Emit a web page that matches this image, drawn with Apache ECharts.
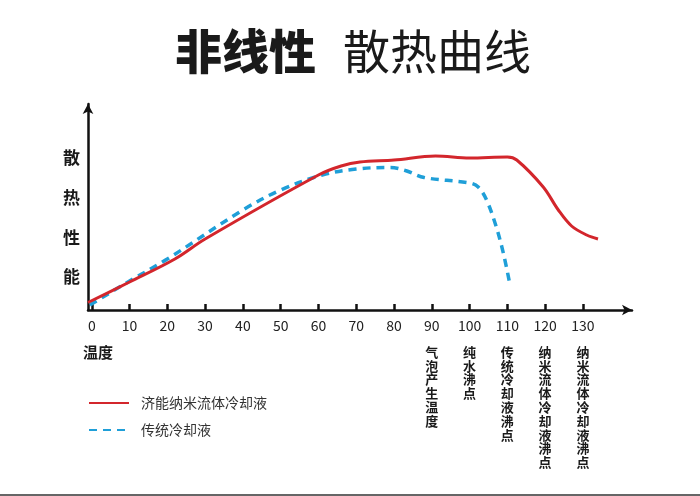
<!DOCTYPE html>
<html>
<head>
<meta charset="utf-8">
<script src="https://cdn.jsdelivr.net/npm/echarts@6/dist/echarts.min.js"></script>
<style>
  html, body { margin: 0; padding: 0; background: #fff; }
  #main { width: 700px; height: 496px; }
</style>
</head>
<body>
<div id="main"></div>
<script>
// 温度刻度
var xTicks = [0, 10, 20, 30, 40, 50, 60, 70, 80, 90, 100, 110, 120, 130];

// 济能纳米流体冷却液 [温度, 散热性能]
var nanoData = [
    [-1, 7.5], [10, 28], [22, 51], [30, 71], [60, 135], [66, 144], [71, 148],
    [80, 150], [91, 154], [100, 152], [110, 153], [112.5, 150], [119.5, 123],
    [123.5, 100], [127, 84], [131, 75], [134, 71]
];

// 传统冷却液
var oldData = [
    [-0.5, 5], [10, 29], [20, 51], [40, 100], [50, 120], [61, 135], [70, 141],
    [79, 142.5], [83, 139.5], [88, 132.5], [100, 127], [102.3, 123],
    [104.5, 110], [107, 84], [109, 56], [110.6, 27]
];

// 轴下方的说明
var noteValues = [90, 100, 110, 120, 130];
var noteTexts = ['气泡产生温度', '纯水沸点', '传统冷却液沸点', '纳米流体冷却液沸点', '纳米流体冷却液沸点'];

var seriesNames = ['济能纳米流体冷却液', '传统冷却液'];

var FONT = '"Noto Sans CJK SC", "Noto Sans", sans-serif';

var chartDom = document.getElementById('main');
var myChart = echarts.init(chartDom);
var option;

option = {
    backgroundColor: '#fff',
    animation: false,
    textStyle: { fontFamily: FONT },
    title: {
        text: '{a|非线性}{b|散热曲线}',
        left: 175,
        top: 28,
        padding: 0,
        textStyle: {
            rich: {
                a: { fontSize: 47, fontWeight: 900, color: '#1a1a1a', fontFamily: FONT },
                b: { fontSize: 47, fontWeight: 'normal', color: '#1a1a1a', fontFamily: FONT, padding: [0, 0, 0, 27] }
            }
        }
    },
    legend: {
        orient: 'vertical',
        left: 88,
        top: 396,
        padding: 0,
        itemWidth: 40,
        itemHeight: 14,
        itemGap: 13,
        itemStyle: { opacity: 0 },
        textStyle: { fontSize: 14, color: '#333', fontFamily: FONT, padding: [0, 0, 0, 7] },
        data: seriesNames
    },
    grid: { left: 88, right: 68, top: 104, bottom: 186 },
    xAxis: {
        type: 'value',
        min: -1,
        max: 143,
        splitLine: { show: false },
        axisLine: {
            lineStyle: { color: '#111', width: 2.5 },
            symbol: ['none', 'arrow'],
            symbolSize: [8, 10]
        },
        axisTick: {
            inside: true,
            length: 6,
            customValues: xTicks,
            lineStyle: { color: '#111', width: 2.5 }
        },
        axisLabel: {
            customValues: xTicks,
            margin: 9,
            fontSize: 14,
            color: '#222',
            fontFamily: FONT
        }
    },
    yAxis: {
        type: 'value',
        min: 0,
        max: 206,
        splitLine: { show: false },
        axisTick: { show: false },
        axisLabel: { show: false },
        axisLine: {
            show: true,
            onZero: false,
            lineStyle: { color: '#111', width: 2.5 },
            symbol: ['none', 'arrow'],
            symbolSize: [8, 10]
        }
    },
    series: [
        {
            name: seriesNames[0],
            type: 'line',
            data: nanoData,
            smooth: 0.35,
            symbol: 'none',
            z: 3,
            itemStyle: { color: '#d3262c' },
            lineStyle: { color: '#d3262c', width: 3 }
        },
        {
            name: seriesNames[1],
            type: 'line',
            data: oldData,
            smooth: 0.35,
            symbol: 'none',
            z: 2,
            itemStyle: { color: '#1f9fd8' },
            lineStyle: { color: '#1f9fd8', width: 3.5, type: [8, 6] }
        }
    ]
};

option && myChart.setOption(option);

// 纵轴文字、横轴名称和说明文字
var graphics = [
    {
        type: 'text',
        left: 63,
        top: 138,
        style: {
            text: '散\n热\n性\n能',
            font: 'bold 17px ' + FONT,
            lineHeight: 39.7,
            fill: '#1a1a1a'
        }
    },
    {
        type: 'text',
        left: 83,
        top: 345,
        style: { text: '温度', font: 'bold 15px ' + FONT, fill: '#1a1a1a' }
    },
    {
        type: 'rect',
        shape: { x: 0, y: 494, width: 700, height: 2 },
        style: { fill: '#666' }
    }
];

noteValues.forEach(function (v, i) {
    var px = myChart.convertToPixel({ xAxisIndex: 0 }, v);
    graphics.push({
        type: 'text',
        x: px,
        y: 345,
        style: {
            text: noteTexts[i].split('').join('\n'),
            font: 'bold 13px ' + FONT,
            lineHeight: 13.8,
            align: 'center',
            verticalAlign: 'top',
            fill: '#1a1a1a'
        }
    });
});

myChart.setOption({ graphic: graphics });
</script>
</body>
</html>
